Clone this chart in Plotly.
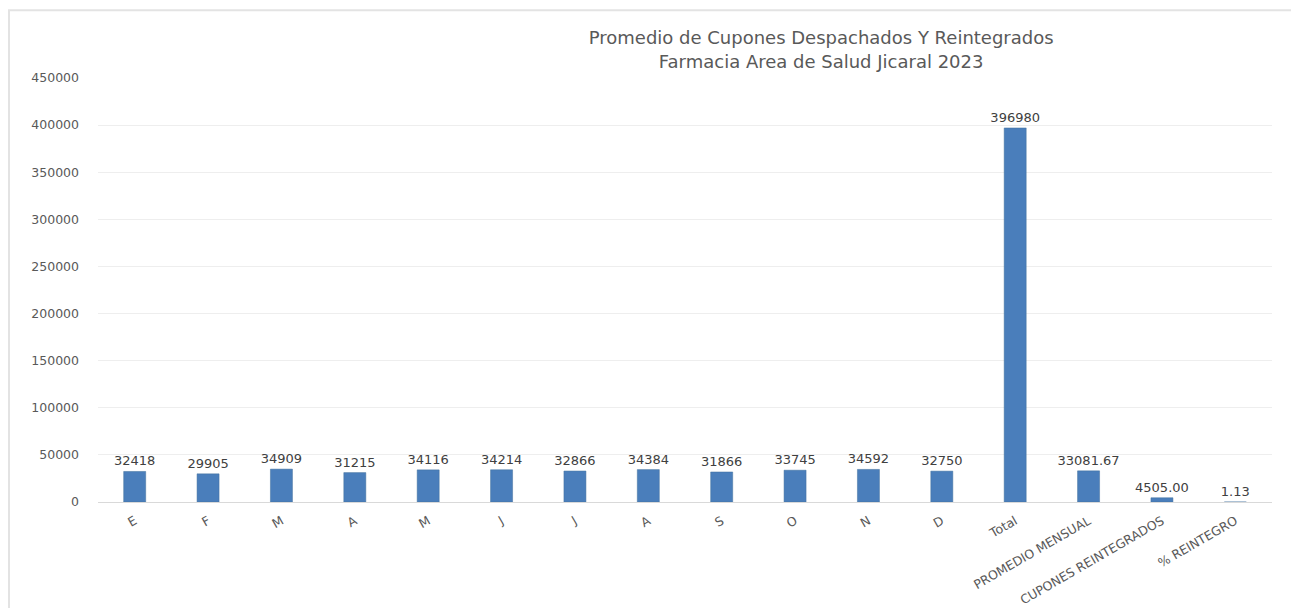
import plotly.graph_objects as go

categorias = ["E", "F", "M", "A", "M", "J", "J", "A", "S", "O", "N", "D",
              "Total", "PROMEDIO MENSUAL", "CUPONES REINTEGRADOS", "% REINTEGRO"]
valores = [32418, 29905, 34909, 31215, 34116, 34214, 32866, 34384, 31866,
           33745, 34592, 32750, 396980, 33081.67, 4505.00, 1.13]
etiquetas = ["32418", "29905", "34909", "31215", "34116", "34214", "32866", "34384",
             "31866", "33745", "34592", "32750", "396980", "33081.67", "4505.00", "1.13"]
y_ticks = [0, 50000, 100000, 150000, 200000, 250000, 300000, 350000, 400000, 450000]

posiciones = list(range(len(categorias)))
fuente = "DejaVu Sans"

fig = go.Figure(go.Bar(
    x=posiciones, y=valores, width=0.3,
    marker=dict(color="#4a7ebb", line=dict(color="#41719c", width=0.5)),
    text=etiquetas, textposition="outside", cliponaxis=False,
    constraintext="none",
    textfont=dict(size=13, color="#404040", family=fuente),
))

# la pagina agrega ~8px de margen, se compensa en los margenes
fig.update_layout(
    width=1299, height=608,
    margin=dict(l=90, r=35, t=70, b=114),
    paper_bgcolor="white", plot_bgcolor="white",
    showlegend=False,
    title=dict(
        text="Promedio de Cupones Despachados Y Reintegrados<br>Farmacia Area de Salud Jicaral 2023",
        x=0.626, xanchor="center", y=0.94, yanchor="top",
        font=dict(size=18, color="#595959", family=fuente),
    ),
    xaxis=dict(
        tickmode="array", tickvals=posiciones, ticktext=categorias,
        tickangle=-30, range=[-0.5, len(categorias) - 0.5],
        showgrid=False, showline=True, linecolor="#d9d9d9",
        automargin=False, ticklabelstandoff=6,
        tickfont=dict(size=12.5, color="#595959", family=fuente),
    ),
    yaxis=dict(
        range=[0, 450000], tickmode="array", tickvals=y_ticks,
        tickformat="d", automargin=False,
        gridcolor="#eeeeee", zeroline=False, showline=False,
        tickfont=dict(size=12.5, color="#595959", family=fuente),
        ticklabelstandoff=18,
    ),
    shapes=[dict(type="rect", xref="paper", yref="paper",
                 x0=-0.0758, x1=1.022, y0=-0.3, y1=1.16,
                 line=dict(color="#e3e3e3", width=2))],
)

fig.write_html("out.html")
